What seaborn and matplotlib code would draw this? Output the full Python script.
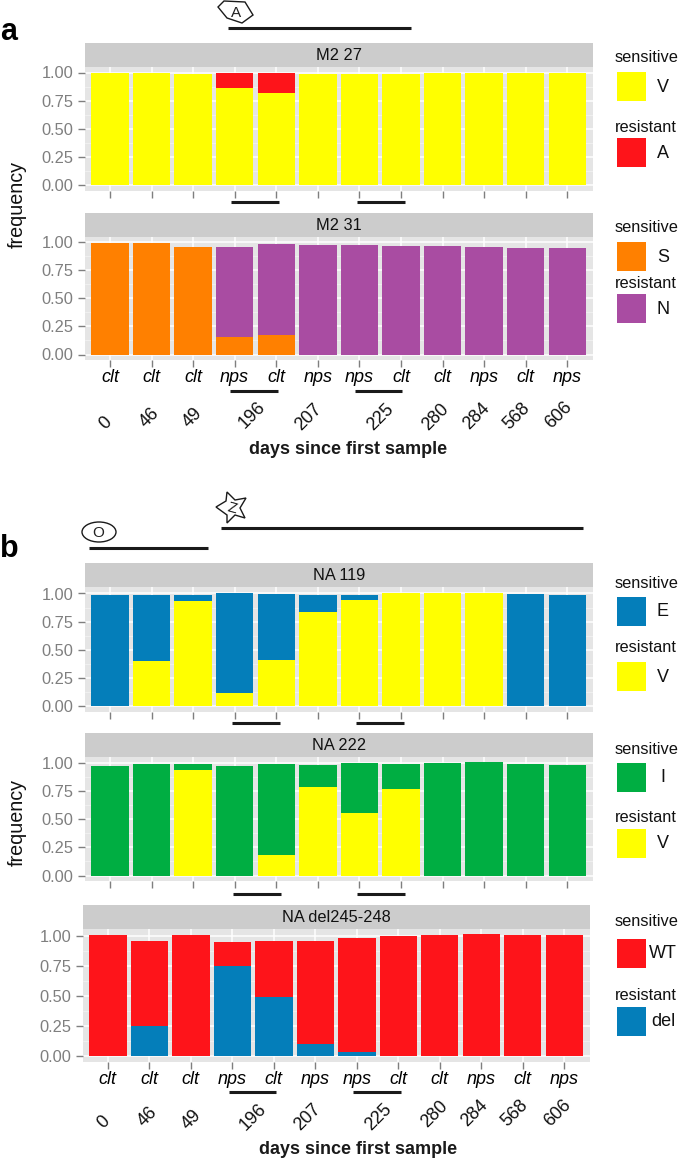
import numpy as np
import pandas as pd
import matplotlib
matplotlib.use("Agg")
import matplotlib.pyplot as plt
from matplotlib.patches import Rectangle, Polygon, Ellipse
import seaborn as sns

# data
samples = ["s%02d" % i for i in range(12)]
sample_type = ["clt", "clt", "clt", "nps", "clt", "nps", "nps", "clt", "clt", "nps", "clt", "nps"]
days = ["0", "46", "49", "196", "207", "225", "280", "284", "568", "606"]

m2_27_V = [0.995, 0.995, 0.99, 0.865, 0.82, 0.99, 0.99, 0.985, 0.995, 1.0, 0.995, 1.0]
m2_27_A = [0, 0, 0, 0.135, 0.175, 0, 0, 0, 0, 0, 0, 0]
m2_31_S = [0.995, 0.99, 0.96, 0.16, 0.17, 0, 0, 0, 0, 0, 0, 0]
m2_31_N = [0, 0, 0, 0.80, 0.81, 0.97, 0.97, 0.965, 0.965, 0.955, 0.945, 0.945]
na119_V = [0, 0.40, 0.93, 0.115, 0.41, 0.835, 0.94, 1.0, 1.0, 1.0, 0, 0]
na119_E = [0.99, 0.59, 0.06, 0.885, 0.585, 0.155, 0.05, 0, 0, 0, 0.995, 0.985]
na222_V = [0, 0, 0.935, 0, 0.18, 0.79, 0.56, 0.77, 0, 0, 0, 0]
na222_I = [0.975, 0.99, 0.06, 0.97, 0.815, 0.195, 0.44, 0.22, 0.997, 1.006, 0.99, 0.985]
nadel_del = [0, 0.245, 0, 0.75, 0.49, 0.10, 0.033, 0, 0, 0, 0, 0]
nadel_WT = [1.01, 0.715, 1.005, 0.197, 0.468, 0.858, 0.947, 1.0, 1.008, 1.013, 1.003, 1.003]

YELLOW = "#FFFF00"
RED = "#FE141A"
ORANGE = "#FF8000"
PURPLE = "#A94CA2"
BLUE = "#047EBA"
GREEN = "#00AE42"

W, H = 680, 1164
sns.set_theme(style="white")
plt.rcParams["font.family"] = ["Liberation Sans", "DejaVu Sans"]

fig = plt.figure(figsize=(W / 100, H / 100), dpi=100)

# overlay in image pixels for the hand placed annotations
over = fig.add_axes([0, 0, 1, 1], zorder=5)
over.set_xlim(0, W)
over.set_ylim(H, 0)
over.axis("off")
over.patch.set_alpha(0)


def draw_panel(title, low, high, low_col, high_col, box, labels=False):
    x0, top, x1, y1, y0, bottom = box  # strip left, strip top, right, px of 1.00, px of 0.00, panel bottom
    strip_bottom = top + 24
    ax = fig.add_axes([x0 / W, 1 - bottom / H, (x1 - x0) / W, (bottom - strip_bottom) / H])
    df = pd.DataFrame({"sample": samples, "low": low, "total": np.add(low, high)})
    sns.barplot(data=df, x="sample", y="total", color=high_col, width=0.9, saturation=1, linewidth=0, ax=ax)
    sns.barplot(data=df, x="sample", y="low", color=low_col, width=0.9, saturation=1, linewidth=0, ax=ax)

    scale = y0 - y1
    ax.set_ylim((y0 - bottom) / scale, (y0 - strip_bottom) / scale)
    ax.set_xlim(-0.6, 11.62)
    ax.set_facecolor("#E5E5E5")
    ax.set_axisbelow(True)
    ax.set_yticks([0, 0.25, 0.5, 0.75, 1.0], ["0.00", "0.25", "0.50", "0.75", "1.00"])
    ax.set_yticks([0.125, 0.375, 0.625, 0.875], minor=True)
    ax.grid(True, which="major", color="white", lw=1.1)
    ax.grid(True, which="minor", axis="y", color="#F2F2F2", lw=0.6)
    ax.tick_params(axis="y", which="major", left=True, length=5, width=1, color="#7F7F7F",
                   labelcolor="#7F7F7F", labelsize=11.8, pad=3.5)
    ax.tick_params(axis="y", which="minor", left=False)
    ax.tick_params(axis="x", bottom=True, length=5, width=1, color="#7F7F7F", pad=1.5)
    ax.set_xticks(range(12))
    if labels:
        ax.set_xticklabels(sample_type, fontsize=13, style="italic", color="black")
    else:
        ax.set_xticklabels([])
    ax.set_xlabel("")
    ax.set_ylabel("")
    sns.despine(ax=ax, left=True, bottom=True)

    over.add_patch(Rectangle((x0, top), x1 - x0, 24, fc="#CCCCCC", ec="none"))
    over.text((x0 + x1) / 2, top + 12.5, title, ha="center", va="center", fontsize=11.8, color="#111111")
    return ax


draw_panel("M2 27", m2_27_V, m2_27_A, YELLOW, RED, (85, 43, 593, 72.5, 185, 191))
draw_panel("M2 31", m2_31_S, m2_31_N, ORANGE, PURPLE, (85, 213, 593, 242, 354.5, 360), labels=True)
draw_panel("NA 119", na119_V, na119_E, YELLOW, BLUE, (85, 563, 593, 593.5, 706, 712))
draw_panel("NA 222", na222_V, na222_I, YELLOW, GREEN, (85, 733, 593, 763, 875.5, 881))
draw_panel("NA del245-248", nadel_del, nadel_WT, BLUE, RED, (83, 904.5, 590, 935.7, 1055.7, 1062), labels=True)


def legend_block(title_y, swatch_y, title, col, label, label_x=663):
    over.text(615, title_y, title, ha="left", va="center", fontsize=11.8, color="#111111")
    over.add_patch(Rectangle((617, swatch_y), 29, 29, fc=col, ec="none"))
    over.text(label_x, swatch_y + 15, label, ha="center", va="center", fontsize=13, color="#111111")


legend_block(58, 72, "sensitive", YELLOW, "V")
legend_block(127, 138, "resistant", RED, "A")
legend_block(228, 242, "sensitive", ORANGE, "S")
legend_block(284, 294, "resistant", PURPLE, "N")
legend_block(583, 597, "sensitive", BLUE, "E")
legend_block(648, 662, "resistant", YELLOW, "V")
legend_block(749, 763, "sensitive", GREEN, "I")
legend_block(817, 829, "resistant", YELLOW, "V")
legend_block(921, 939, "sensitive", RED, "WT", label_x=663)
legend_block(995, 1007, "resistant", BLUE, "del", label_x=663)

# treatment bars and markers
segments = [(228, 411, 28), (231, 279, 202), (357, 405, 202), (230, 278, 391), (355, 402, 391),
            (89, 208, 548), (221, 583, 528), (232, 280, 722.5), (356, 404, 722.5),
            (232.5, 280.5, 894), (357, 405, 894), (229, 276, 1092), (353, 401, 1092)]
for xa, xb, yy in segments:
    over.plot([xa, xb], [yy, yy], color="#1A1A1A", lw=2.2, solid_capstyle="butt")

hexagon = [(218, 7), (224, 1), (245, 2), (253, 15), (242, 23), (227, 18)]
star = [(227, 492), (235, 500), (246, 498), (240, 508), (245, 518),
        (235, 515), (227, 523), (227, 515), (216, 507), (226, 501)]
over.add_patch(Polygon(hexagon, closed=True, fc="white", ec="#1A1A1A", lw=1))
over.add_patch(Polygon(star, closed=True, fc="white", ec="#1A1A1A", lw=1))
over.add_patch(Ellipse((99, 532), 34, 20, fc="white", ec="#1A1A1A", lw=1))
over.text(236, 13, "A", ha="center", va="center", fontsize=11, color="#222222")
over.text(232, 508, "Z", ha="center", va="center", fontsize=11, rotation=-15, color="#222222")
over.text(98, 533, "O", ha="center", va="center", fontsize=11, color="#222222")

# day labels sit by hand under the type labels
days_top_xy = [(106, 423), (150, 418), (193, 418), (252, 415), (309, 417), (381, 417),
               (436, 417), (477, 416), (517, 416), (559, 415)]
days_low_xy = [(104, 1122), (148, 1117), (192, 1120), (253, 1117), (308, 1117), (379, 1117),
               (435, 1114), (475, 1113), (515, 1113), (558, 1113)]
for lab, (xa, ya), (xb, yb) in zip(days, days_top_xy, days_low_xy):
    over.text(xa, ya, lab, rotation=45, ha="center", va="center", fontsize=13, color="#111111")
    over.text(xb, yb, lab, rotation=45, ha="center", va="center", fontsize=13, color="#111111")

over.text(348, 450, "days since first sample", ha="center", va="center", fontsize=13, fontweight="bold", color="#1A1A1A")
over.text(358, 1150, "days since first sample", ha="center", va="center", fontsize=13, fontweight="bold", color="#1A1A1A")
over.text(17, 205, "frequency", rotation=90, ha="center", va="center", fontsize=14.2, color="#111111")
over.text(17, 823, "frequency", rotation=90, ha="center", va="center", fontsize=14.2, color="#111111")
over.text(9, 32, "a", ha="center", va="center", fontsize=22, fontweight="bold", color="black")
over.text(9, 549, "b", ha="center", va="center", fontsize=22, fontweight="bold", color="black")

fig.savefig("out.png", dpi=100)
